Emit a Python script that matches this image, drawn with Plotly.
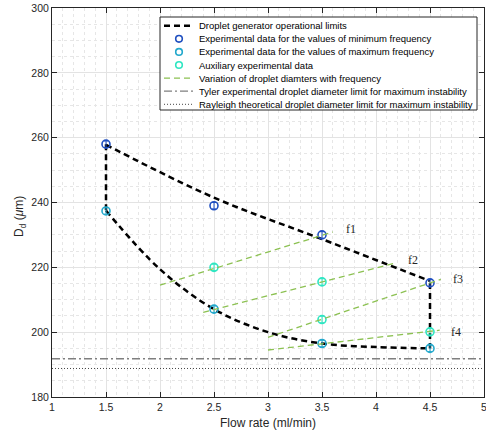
import plotly.graph_objects as go

# ---- data ----
top_x = [1.5, 2.5, 3.5, 4.5]
top_y = [257.8, 241.5, 228.7, 215.8]
bot_x = [1.5, 2.0, 2.5, 3.0, 3.5, 4.0, 4.5]
bot_y = [237.5, 219.4, 207.1, 200.0, 196.5, 195.4, 195.0]
left_x = [1.5, 1.5]
left_y = [258.0, 237.5]
right_x = [4.5, 4.5]
right_y = [215.2, 195.0]

minf_x = [1.5, 2.5, 3.5, 4.5]
minf_y = [258.0, 239.0, 230.0, 215.2]
maxf_x = [1.5, 2.5, 3.5, 4.5]
maxf_y = [237.4, 207.1, 196.5, 195.0]
aux_x = [2.5, 3.5, 3.5, 4.5]
aux_y = [220.0, 215.5, 203.9, 200.1]

f1_x = [2.0, 3.6]; f1_y = [214.5, 230.9]
f2_x = [2.4, 4.19]; f2_y = [206.1, 221.4]
f3_x = [3.0, 4.6]; f3_y = [198.4, 216.3]
f4_x = [3.0, 4.59]; f4_y = [194.5, 200.6]

tyler_y = 191.8
rayleigh_y = 188.8

labels = ["f1", "f2", "f3", "f4"]
label_x = [3.70, 4.28, 4.69, 4.68]
label_y = [231.7, 222.4, 216.3, 200.1]

legend_names = [
    "Droplet generator operational limits",
    "Experimental data for the values of minimum frequency",
    "Experimental data for the values of maximum frequency",
    "Auxiliary experimental data",
    "Variation of droplet diamters with frequency",
    "Tyler experimental droplet diameter limit for maximum instability",
    "Rayleigh theoretical droplet diameter limit for maximum instability",
]

x_title = "Flow rate (ml/min)"
y_title = "D<sub>d</sub> (<i>μ</i>m)"

x_range = [1, 5]
y_range = [180, 300]

# ---- styles ----
C_MIN = "#1f4fc0"
C_MAX = "#22a8cc"
C_AUX = "#2ee6c2"
C_GRN = "#8cc152"
TXT = "#262626"
blk = dict(color="black", width=2.5, dash="6px,4px")
grn = dict(color=C_GRN, width=1.3, dash="6px,4px")
tyl = dict(color="#7f7f7f", width=1.3, dash="8px,3px,2px,3px")
ray = dict(color="#444444", width=1, dash="1px,2px")

fig = go.Figure()
fig.add_trace(go.Scatter(x=top_x, y=top_y, mode="lines", line=dict(shape="spline", **blk)))
fig.add_trace(go.Scatter(x=bot_x, y=bot_y, mode="lines", line=dict(shape="spline", **blk)))
fig.add_trace(go.Scatter(x=left_x, y=left_y, mode="lines", line=blk))
fig.add_trace(go.Scatter(x=right_x, y=right_y, mode="lines", line=blk))

def pts(x, y, color):
    return go.Scatter(x=x, y=y, mode="markers",
                      marker=dict(symbol="circle-open", size=8, color=color, line=dict(width=1.6, color=color)),
                      error_y=dict(type="constant", value=1.0, color=color, thickness=1, width=2))

fig.add_trace(pts(minf_x, minf_y, C_MIN))
fig.add_trace(pts(maxf_x, maxf_y, C_MAX))
fig.add_trace(pts(aux_x, aux_y, C_AUX))

gx = f1_x + [None] + f2_x + [None] + f3_x + [None] + f4_x
gy = f1_y + [None] + f2_y + [None] + f3_y + [None] + f4_y
fig.add_trace(go.Scatter(x=gx, y=gy, mode="lines", connectgaps=False, line=grn))
fig.add_trace(go.Scatter(x=x_range, y=[tyler_y, tyler_y], mode="lines", line=tyl))
fig.add_trace(go.Scatter(x=x_range, y=[rayleigh_y, rayleigh_y], mode="lines", line=ray))

for t, xx, yy in zip(labels, label_x, label_y):
    fig.add_annotation(x=xx, y=yy, text=t, showarrow=False, xanchor="left", yanchor="middle",
                       font=dict(family="Liberation Serif", size=12, color=TXT))

# ---- custom legend (pixel-placed, paper coords) ----
L, R, T, B = 52, 484, 8, 397
def px(x): return (x - L) / (R - L)
def py(y): return (B - y) / (B - T)

shapes = [dict(type="rect", xref="paper", yref="paper", x0=px(160), x1=px(477), y0=py(110), y1=py(17),
               line=dict(color=TXT, width=1), fillcolor="white", layer="above")]
row0, drow = 25.7, 13.1
styles = [("line", blk), ("marker", C_MIN), ("marker", C_MAX), ("marker", C_AUX),
          ("line", grn), ("line", tyl), ("line", ray)]
for i, (name, (kind, st)) in enumerate(zip(legend_names, styles)):
    yy = row0 + i * drow
    if kind == "line":
        shapes.append(dict(type="line", xref="paper", yref="paper", x0=px(164), x1=px(194),
                           y0=py(yy), y1=py(yy), line=dict(st), layer="above"))
    else:
        shapes.append(dict(type="circle", xref="paper", yref="paper", xsizemode="pixel", ysizemode="pixel",
                           xanchor=px(179), yanchor=py(yy), x0=-3.3, x1=3.3, y0=-3.3, y1=3.3,
                           line=dict(color=st, width=1.6), fillcolor="rgba(0,0,0,0)", layer="above"))
    fig.add_annotation(xref="paper", yref="paper", x=px(197), y=py(yy), text=name, showarrow=False,
                       xanchor="left", yanchor="middle",
                       font=dict(family="Liberation Sans", size=9.5, color="#000000"))

# axis titles as annotations for exact placement
fig.add_annotation(xref="paper", yref="paper", x=px(268), y=py(423), text=x_title, showarrow=False,
                   xanchor="center", yanchor="middle", font=dict(family="Liberation Sans", size=12, color=TXT))
fig.add_annotation(xref="paper", yref="paper", x=px(20), y=py(217), text=y_title, showarrow=False,
                   textangle=-90, xanchor="center", yanchor="middle",
                   font=dict(family="Liberation Sans", size=12, color=TXT))

axcommon = dict(showline=True, linecolor=TXT, linewidth=1, mirror="allticks",
                ticks="inside", ticklen=5, tickcolor=TXT, automargin=False,
                showgrid=True, gridcolor="#e3e3e3", gridwidth=1, zeroline=False,
                ticklabeloverflow="allow",
                tickfont=dict(family="Liberation Sans", size=10.5, color=TXT))
fig.update_xaxes(range=x_range, dtick=0.5, tick0=1,
                 minor=dict(dtick=0.1, showgrid=True, gridcolor="#e6e6e6", griddash="dot", ticks=""),
                 **axcommon)
fig.update_yaxes(range=y_range, dtick=20, tick0=180,
                 minor=dict(dtick=5, showgrid=True, gridcolor="#e6e6e6", griddash="dot", ticks=""),
                 **axcommon)

fig.update_layout(
    width=486, height=434,
    margin=dict(l=L, r=486 - R, t=T, b=434 - B, autoexpand=False),
    plot_bgcolor="white", paper_bgcolor="white",
    font=dict(family="Liberation Sans", color=TXT),
    showlegend=False,
    shapes=shapes,
)

fig.write_html("out.html", config={"displayModeBar": False},
               post_script="document.body.style.margin='0px';document.body.style.overflow='hidden';")
